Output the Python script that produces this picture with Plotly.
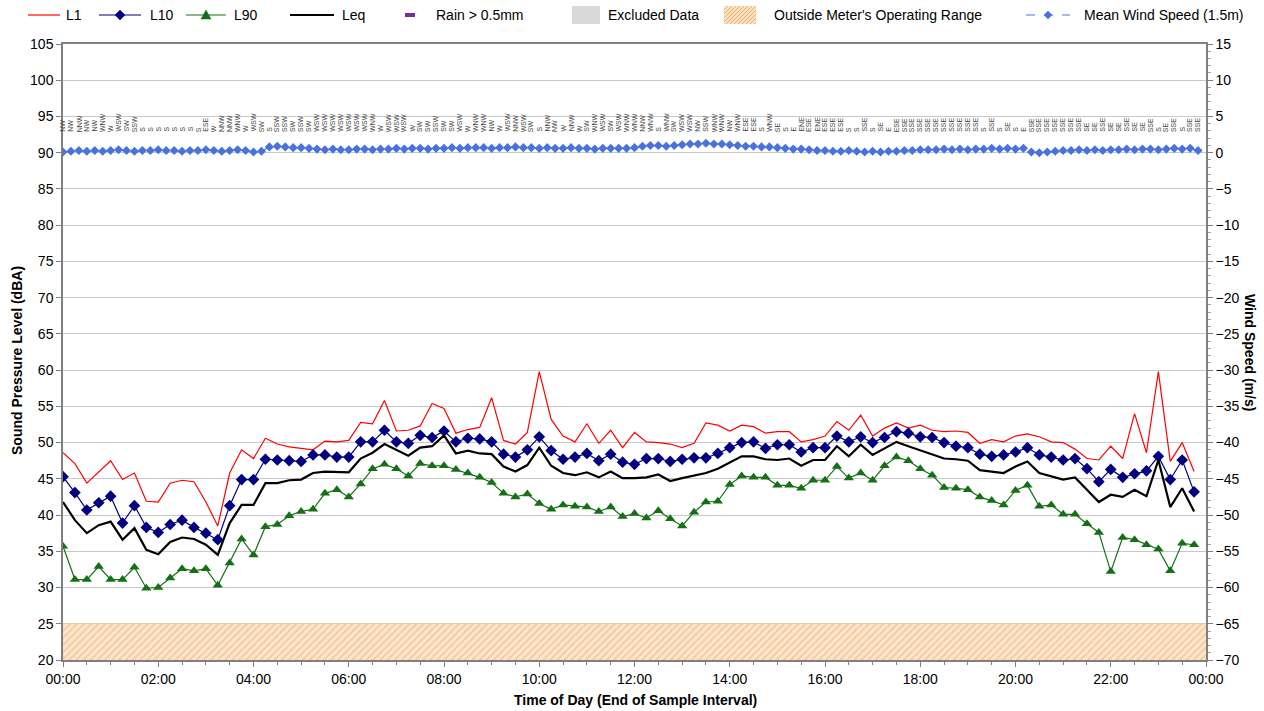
import plotly.graph_objects as go

# ---------------- data ----------------
# 15-minute noise data, 00:00 .. 23:45
L1 = [48.6,47.1,44.4,46.0,47.5,44.9,45.8,41.9,41.8,44.4,44.8,44.6,41.8,38.5,45.8,49.0,47.8,
      50.6,49.8,49.4,49.2,49.0,50.2,50.1,
      50.3,52.8,52.6,55.8,51.6,51.7,52.3,55.4,54.7,51.3,51.8,52.1,56.2,50.3,49.8,51.4,59.8,53.2,50.9,50.1,52.6,49.9,51.7,49.3,51.4,50.1,50.0,
      49.8,49.3,49.9,52.7,52.4,51.6,52.4,52.2,51.3,51.5,51.5,50.1,50.4,50.9,52.9,51.7,53.8,50.9,52.0,52.7,52.0,52.4,51.7,
      51.5,51.6,51.4,49.9,50.4,50.1,50.9,51.2,50.8,50.1,50.0,49.1,47.8,47.6,49.5,47.8,54.0,48.6,59.8,47.4,50.0,46.0]
L10 = [45.3,43.1,40.7,41.7,42.6,38.9,41.3,38.3,37.6,38.7,39.3,38.3,37.5,36.6,41.3,44.9,44.9,47.7,47.6,47.5,47.4,48.3,48.3,48.0,48.0,
       50.1,50.1,51.7,50.1,49.9,51.0,50.7,51.6,50.1,50.6,50.5,50.1,48.4,48.0,49.0,50.8,48.9,47.7,48.0,48.5,47.5,48.4,47.3,47.0,47.8,47.8,
       47.4,47.7,47.9,47.9,48.5,49.3,50.0,50.1,49.2,49.7,49.7,48.7,49.3,49.3,50.9,50.1,50.8,50.0,50.7,51.5,51.3,50.8,50.7,
       50.0,49.5,49.3,48.4,48.1,48.3,48.7,49.3,48.3,48.0,47.6,47.8,46.4,44.6,46.3,45.2,45.7,46.1,48.1,44.9,47.6,43.2]
L90 = [35.7,31.1,31.1,32.9,31.1,31.1,32.8,29.9,30.0,31.3,32.6,32.3,32.6,30.3,33.4,36.7,34.5,38.4,38.7,39.9,40.5,40.8,43.0,43.5,42.5,
       44.3,46.4,47.0,46.4,45.4,47.1,46.8,46.8,46.3,45.8,45.2,44.5,43.0,42.5,42.9,41.6,40.8,41.4,41.2,41.1,40.5,41.1,39.8,40.2,39.6,40.6,
       39.5,38.5,40.4,41.8,41.9,44.2,45.4,45.2,45.2,44.1,44.1,43.7,44.8,44.8,46.7,45.1,45.8,44.8,46.8,48.0,47.5,46.4,45.5,
       43.8,43.7,43.5,42.5,42.0,41.4,43.4,44.1,41.2,41.4,40.1,40.1,38.8,37.6,32.2,36.9,36.6,35.9,35.3,32.3,36.1,35.9]
LEQ = [41.8,39.3,37.5,38.6,39.1,36.6,38.2,35.2,34.6,36.3,36.9,36.7,35.9,34.5,38.9,41.4,41.4,44.4,44.4,44.8,44.9,45.8,46.0,46.0,45.9,
       47.8,48.6,49.8,49.0,48.2,49.3,49.5,51.0,48.5,48.9,48.5,48.4,46.7,46.0,46.9,49.3,46.8,45.8,45.5,45.9,45.2,46.0,45.1,45.1,45.2,45.6,
       44.7,45.1,45.4,45.8,46.4,47.2,48.1,48.1,47.7,47.6,47.8,46.8,47.6,47.6,49.5,48.1,49.7,48.3,49.2,50.1,49.5,48.9,48.3,
       47.8,47.7,47.5,46.2,46.0,45.8,46.7,47.4,45.8,45.4,44.9,45.2,43.5,41.8,42.8,42.5,43.5,42.6,47.6,41.1,43.7,40.5]

# 10-minute wind data, 00:00 .. 23:50
WIND = [0.1,0.2,0.3,0.2,0.3,0.2,0.3,0.4,0.3,0.2,0.3,0.3,0.4,0.3,0.3,0.2,0.3,0.3,0.4,0.3,0.2,0.3,0.4,0.3,0.1,0.2,
        0.8,0.9,0.8,0.7,0.7,0.6,
        0.5,0.4,0.5,0.4,0.4,0.5,0.5,0.4,0.5,0.5,0.6,0.5,0.6,0.6,0.5,0.6,0.6,0.7,0.6,0.7,
        0.7,0.7,0.6,0.7,0.7,0.8,0.7,0.7,0.6,0.7,0.6,0.6,0.7,0.6,0.6,0.5,0.6,0.6,0.6,0.6,0.7,
        0.9,1.0,1.0,0.9,1.0,1.1,1.2,1.2,1.3,1.2,1.2,1.1,1.0,0.9,0.9,0.8,0.8,0.7,
        0.6,0.5,0.5,0.4,0.3,0.3,0.2,0.2,0.3,0.2,0.1,0.2,0.1,0.2,0.2,0.3,0.3,0.4,0.4,0.4,
        0.5,0.4,0.5,0.4,0.5,0.5,0.6,0.5,0.6,0.5,0.6,
        0.1,0.0,0.1,0.2,
        0.3,0.3,0.4,0.3,0.4,0.3,0.4,0.4,0.5,0.4,0.5,0.5,0.4,0.5,0.6,0.5,0.6,0.3]
WIND_DIR = ["NW","NW","NNW","NW","NW","WNW","W","WSW","SW","SSW","S","S","S","S","S","S","S","S","ESE","W",
            "NNW","NNW","WNW","W","WSW","SW","S","SSW","SSW","SW","SSW","SW","WSW","WSW","WSW","WSW","WSW",
            "WSW","WSW","WNW","W","WSW","WSW","WSW","W","SW","SW","SSW","SW","SW","WSW","W","WNW","WNW","NW",
            "W","WSW","NNW","WSW","SW","S","NNW","NW","W","NNW","W","SW","WNW","WSW","SW","WSW","WNW","WNW",
            "NNW","WNW","S","WNW","SW","WSW","WSW","NW","SSW","WNW","WNW","NW","WNW","ESE","ESE","S","WNW","SE",
            "S","E","ENE","ESE","ENE","ESE","ESE","ESE","S","S","SSE","S","SE","E","ESE","SSE","SSE","SSE",
            "SSE","SSE","SSE","SSE","SSE","SSE","SSE","S","SSE","S","SE","S","E","SSE","SSE","SSE","SSE","SSE",
            "SSE","SSE","SE","SE","SSE","SE","SE","SSE","SE","SE","SSE","S","SE","SSE","S","SSE","SSE"]

X_TICK_VALS = [0, 2, 4, 6, 8, 10, 12, 14, 16, 18, 20, 22, 24]
X_TICK_TEXT = ["00:00","02:00","04:00","06:00","08:00","10:00","12:00","14:00","16:00","18:00","20:00","22:00","00:00"]

noise_x = [i * 0.25 for i in range(len(L1))]
wind_x = [i / 6 for i in range(len(WIND))]

FONT = "Liberation Sans, Arial, sans-serif"
C_L1, C_L10, C_L90, C_LEQ, C_WIND = "#FF0000", "#000080", "#157015", "#000000", "#4A72DC"

# plot-area geometry (pixels) used to place the hand-drawn legend
W, H = 1264, 711
ML, MR, MT, MB = 63, 58, 44, 51
PW, PH = W - ML - MR, H - MT - MB


def px(sx):
    return (sx - ML) / PW


def py(sy):
    return (H - MB - sy) / PH


fig = go.Figure()

# Outside operating range band (20-25 dB)
fig.add_trace(go.Scatter(
    x=[0, 24, 24, 0, 0], y=[20, 20, 25, 25, 20], mode="lines", fill="toself",
    line=dict(width=0.5, color="#F5C89A"), fillcolor="#FDE3C6",
    fillpattern=dict(shape="/", fgcolor="#F2A860", bgcolor="#FDE7CF", size=5, solidity=0.35),
    showlegend=False, hoverinfo="skip"))

fig.add_trace(go.Scatter(x=noise_x, y=L1, mode="lines", name="L1", showlegend=False,
                         line=dict(color=C_L1, width=1.2)))
fig.add_trace(go.Scatter(x=noise_x, y=L10, mode="lines+markers", name="L10", showlegend=False,
                         line=dict(color=C_L10, width=1.2),
                         marker=dict(symbol="diamond", size=9, color=C_L10)))
fig.add_trace(go.Scatter(x=noise_x, y=L90, mode="lines+markers", name="L90", showlegend=False,
                         line=dict(color=C_L90, width=1.2),
                         marker=dict(symbol="triangle-up", size=9, color=C_L90)))
fig.add_trace(go.Scatter(x=noise_x, y=LEQ, mode="lines", name="Leq", showlegend=False,
                         line=dict(color=C_LEQ, width=2.2)))
fig.add_trace(go.Scatter(x=wind_x, y=WIND, mode="lines+markers", name="Mean Wind Speed (1.5m)",
                         showlegend=False,
                         line=dict(color=C_WIND, width=1.2, dash="dash"),
                         marker=dict(symbol="diamond", size=7, color=C_WIND),
                         yaxis="y2"))

shapes = []
annotations = []

# wind direction labels
for xv, d in zip(wind_x, WIND_DIR):
    annotations.append(dict(x=xv, y=92.6, xref="x", yref="y", text=d, showarrow=False,
                            textangle=-90, xanchor="center", yanchor="bottom",
                            font=dict(family=FONT, size=7, color="#444444")))

# ---------- hand-drawn legend (row centred at y = 15 px) ----------
LY = 15
leg_text = [("L1", 64), ("L10", 148), ("L90", 232), ("Leq", 340), ("Rain > 0.5mm", 434),
            ("Excluded Data", 606), ("Outside Meter's Operating Range", 772),
            ("Mean Wind Speed (1.5m)", 1082)]
for t, sx in leg_text:
    annotations.append(dict(x=px(sx), y=py(LY), xref="paper", yref="paper", text=t,
                            showarrow=False, xanchor="left", yanchor="middle",
                            font=dict(family=FONT, size=14, color="#000000")))


def hline(x0, x1, color, width, dash="solid"):
    shapes.append(dict(type="line", xref="paper", yref="paper", x0=px(x0), x1=px(x1),
                       y0=py(LY), y1=py(LY), line=dict(color=color, width=width, dash=dash)))


def marker_path(cx, kind, r, color):
    if kind == "diamond":
        pts = [(cx, LY - r), (cx + r, LY), (cx, LY + r), (cx - r, LY)]
    else:
        pts = [(cx, LY - r), (cx + r, LY + r * 0.8), (cx - r, LY + r * 0.8)]
    path = "M " + " L ".join(f"{px(a)},{py(b)}" for a, b in pts) + " Z"
    shapes.append(dict(type="path", xref="paper", yref="paper", path=path,
                       fillcolor=color, line=dict(color=color, width=0.5)))


hline(28, 60, C_L1, 1.2)
hline(99, 141, C_L10, 1.2)
marker_path(120, "diamond", 5, C_L10)
hline(186, 226, C_L90, 1.2)
marker_path(206, "triangle", 5, C_L90)
hline(290, 334, C_LEQ, 2.2)
shapes.append(dict(type="line", xref="paper", yref="paper", x0=px(405), x1=px(415),
                   y0=py(LY), y1=py(LY), line=dict(color="#7030A0", width=4)))
shapes.append(dict(type="rect", xref="paper", yref="paper", x0=px(572), x1=px(600),
                   y0=py(LY + 9), y1=py(LY - 9), fillcolor="#D9D9D9", line=dict(width=0)))
# hatched box
bx0, bx1, by0, by1 = 724, 756, LY - 9, LY + 9
shapes.append(dict(type="rect", xref="paper", yref="paper", x0=px(bx0), x1=px(bx1),
                   y0=py(by1), y1=py(by0), fillcolor="#FDE3C6", line=dict(width=0)))
hh = by1 - by0
c = -hh
while c < bx1 - bx0:
    t0 = max(0, -c)
    t1 = min(hh, (bx1 - bx0) - c)
    if t1 > t0:
        shapes.append(dict(type="line", xref="paper", yref="paper",
                           x0=px(bx0 + c + t0), y0=py(by1 - t0),
                           x1=px(bx0 + c + t1), y1=py(by1 - t1),
                           line=dict(color="#F2A860", width=1)))
    c += 4
hline(1026, 1070, C_WIND, 1.2, dash="dash")
marker_path(1048, "diamond", 4, C_WIND)

# axis titles
annotations.append(dict(x=px(1250), y=0.5, xref="paper", yref="paper", text="<b>Wind Speed (m/s)</b>",
                        showarrow=False, textangle=90, xanchor="center", yanchor="middle",
                        font=dict(family=FONT, size=14, color="#000000")))
annotations.append(dict(x=px(17), y=py(361), xref="paper", yref="paper",
                        text="<b>Sound Pressure Level (dBA)</b>",
                        showarrow=False, textangle=-90, xanchor="center", yanchor="middle",
                        font=dict(family=FONT, size=14, color="#000000")))
annotations.append(dict(x=px(635), y=py(700), xref="paper", yref="paper",
                        text="<b>Time of Day (End of Sample Interval)</b>",
                        showarrow=False, xanchor="center", yanchor="middle",
                        font=dict(family=FONT, size=14, color="#000000")))

fig.update_layout(
    width=W, height=H,
    margin=dict(l=ML, r=MR, t=MT, b=MB, autoexpand=False),
    paper_bgcolor="white", plot_bgcolor="white",
    font=dict(family=FONT, size=14, color="#000000"),
    showlegend=False,
    xaxis=dict(range=[0, 24], tickvals=X_TICK_VALS, ticktext=X_TICK_TEXT,
               ticks="outside", ticklen=5, tickcolor="#808080", automargin=False,
               showgrid=False, zeroline=False, showline=True, linecolor="#808080", linewidth=1.5,
               mirror=True,
               minor=dict(dtick=0.5, ticks="outside", ticklen=3, tickcolor="#808080")),
    yaxis=dict(range=[20, 105], dtick=5, ticks="outside", ticklen=5, tickcolor="#808080",
               showgrid=True, gridcolor="#C8C8C8", gridwidth=1, zeroline=False, automargin=False,
               showline=True, linecolor="#808080", linewidth=1.5),
    yaxis2=dict(range=[-70, 15], dtick=5, overlaying="y", side="right", automargin=False,
                ticks="outside", ticklen=5, tickcolor="#808080",
                showgrid=False, zeroline=False, showline=True, linecolor="#808080", linewidth=1.5,
                minor=dict(dtick=1, ticks="outside", ticklen=3, tickcolor="#A0A0A0")),
    shapes=shapes,
    annotations=annotations,
)

fig.write_html("out.html", config={"displayModeBar": False},
               post_script="document.body.style.margin='0';")
